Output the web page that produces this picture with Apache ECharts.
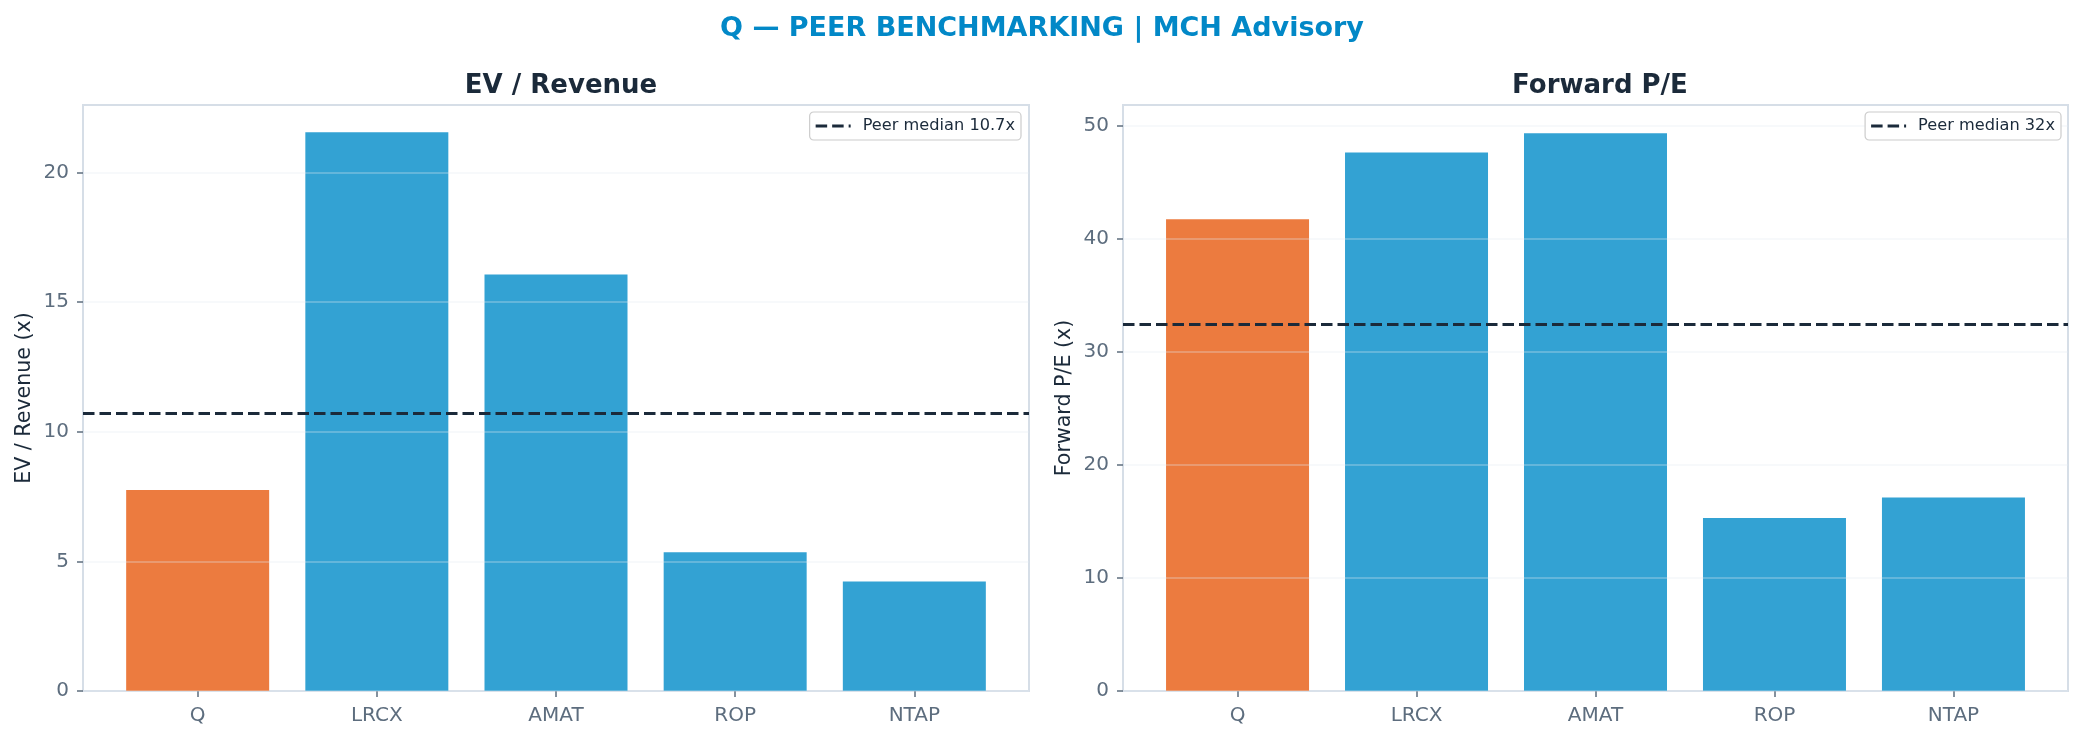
<!DOCTYPE html>
<html>
<head>
<meta charset="utf-8">
<script src="https://cdn.jsdelivr.net/npm/echarts@6/dist/echarts.min.js"></script>
<style>
  html, body { margin: 0; padding: 0; background: #fff; }
  #chart { width: 2084px; height: 741px; }
</style>
</head>
<body>
<div id="chart"></div>
<script>
// data
const categories = ['Q', 'LRCX', 'AMAT', 'ROP', 'NTAP']
const evRevenue = [7.75, 21.55, 16.06, 5.35, 4.22]
const forwardPE = [41.7, 47.6, 49.3, 15.3, 17.1]
const evMedian = 10.7
const peMedian = 32.4
const evMedianLabel = 'Peer median 10.7x'
const peMedianLabel = 'Peer median 32x'
const evTicks = [0, 5, 10, 15, 20]
const peTicks = [0, 10, 20, 30, 40, 50]
const catTicks = [0, 1, 2, 3, 4]
const focusTicker = 'Q'

const FONT = 'DejaVu Sans'
const ORANGE = '#EC7B3F'
const BLUE = '#33A2D3'
const DARK = '#1B2A3A'
const MUTED = '#5D6D7E'
const SPINE = '#D6DEE7'
// dashed legend swatch (matplotlib '--' cut at 35px)
const DASH_ICON = 'path://M0,0H11.5V3H0Z M16.5,0H28V3H16.5Z M33,0H35V3H33Z'

const chart = echarts.init(document.getElementById('chart'), null, { renderer: 'canvas' })

// x axis: matplotlib style, bars at integer positions with 0.05 margins
function xAxisFor(gridIndex) {
  return {
    type: 'value',
    gridIndex,
    min: -0.64,
    max: 4.64,
    splitLine: { show: false },
    axisLine: { show: true, onZero: false, lineStyle: { color: SPINE, width: 2 } },
    axisTick: {
      show: true,
      customValues: catTicks,
      length: 6,
      lineStyle: { color: MUTED, width: 1.5 }
    },
    axisLabel: {
      customValues: catTicks,
      formatter: (v) => categories[Math.round(v)],
      color: MUTED,
      fontFamily: FONT,
      fontSize: 20,
      margin: 15
    }
  }
}

function yAxisFor(gridIndex, max, interval, ticks, name) {
  return {
    type: 'value',
    gridIndex,
    min: 0,
    max,
    interval,
    z: 3,
    name,
    nameLocation: 'middle',
    nameGap: 48,
    nameTextStyle: { color: DARK, fontFamily: FONT, fontSize: 20.6 },
    axisLine: { show: true, onZero: false, lineStyle: { color: SPINE, width: 2 } },
    axisTick: {
      show: true,
      customValues: ticks,
      length: 6,
      lineStyle: { color: MUTED, width: 1.5 }
    },
    axisLabel: {
      customValues: ticks,
      color: MUTED,
      fontFamily: FONT,
      fontSize: 20,
      margin: 14
    },
    splitLine: { show: true, lineStyle: { color: 'rgba(225,232,240,0.38)', width: 1.5 } }
  }
}

function barSeries(idx, values) {
  return {
    type: 'bar',
    xAxisIndex: idx,
    yAxisIndex: idx,
    barWidth: 143,
    z: 2,
    data: values.map((v, i) => ({
      value: [i, v],
      itemStyle: { color: categories[i] === focusTicker ? ORANGE : BLUE }
    }))
  }
}

function medianSeries(idx, name, value) {
  const ls = { color: DARK, width: 3, type: [11.5, 5] }
  return {
    type: 'line',
    name,
    xAxisIndex: idx,
    yAxisIndex: idx,
    z: 5,
    symbol: 'none',
    data: [],
    lineStyle: ls,
    itemStyle: { color: DARK },
    markLine: {
      silent: true,
      symbol: ['none', 'none'],
      label: { show: false },
      lineStyle: ls,
      data: [{ yAxis: value }]
    }
  }
}

function legendFor(name, right) {
  return {
    data: [{ name, icon: DASH_ICON }],
    right,
    top: 112,
    itemWidth: 35,
    itemHeight: 3,
    padding: [6, 6, 6, 6],
    backgroundColor: '#fff',
    borderColor: '#CCCCCC',
    borderWidth: 1.2,
    borderRadius: 4,
    itemStyle: { color: DARK, borderWidth: 0 },
    textStyle: { color: DARK, fontFamily: FONT, fontSize: 16.2, padding: [0, 0, 0, 7] }
  }
}

const option = {
  animation: false,
  backgroundColor: '#fff',
  title: [
    {
      text: 'Q — PEER BENCHMARKING | MCH Advisory',
      left: 1037,
      top: 10,
      textAlign: 'center',
      textStyle: { color: '#0288C7', fontFamily: FONT, fontWeight: 'bold', fontSize: 27 }
    },
    {
      text: 'EV / Revenue',
      left: 556,
      top: 68,
      textAlign: 'center',
      textStyle: { color: DARK, fontFamily: FONT, fontWeight: 'bold', fontSize: 26 }
    },
    {
      text: 'Forward P/E',
      left: 1595,
      top: 68,
      textAlign: 'center',
      textStyle: { color: DARK, fontFamily: FONT, fontWeight: 'bold', fontSize: 26 }
    }
  ],
  legend: [legendFor(evMedianLabel, 1063), legendFor(peMedianLabel, 23)],
  grid: [
    { left: 83, top: 105, right: 1055, bottom: 50, show: true, borderColor: SPINE, borderWidth: 2 },
    { left: 1123, top: 105, right: 16, bottom: 50, show: true, borderColor: SPINE, borderWidth: 2 }
  ],
  xAxis: [xAxisFor(0), xAxisFor(1)],
  yAxis: [
    yAxisFor(0, 22.6, 5, evTicks, 'EV / Revenue (x)'),
    yAxisFor(1, 51.8, 10, peTicks, 'Forward P/E (x)')
  ],
  series: [
    barSeries(0, evRevenue),
    medianSeries(0, evMedianLabel, evMedian),
    barSeries(1, forwardPE),
    medianSeries(1, peMedianLabel, peMedian)
  ]
}

chart.setOption(option)
</script>
</body>
</html>
